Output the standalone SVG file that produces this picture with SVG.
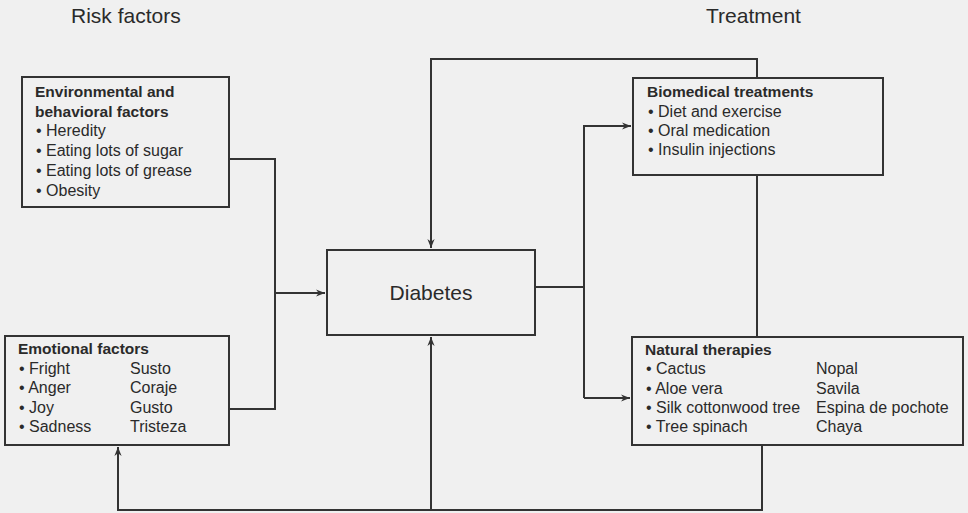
<svg xmlns="http://www.w3.org/2000/svg" width="968" height="513" viewBox="0 0 968 513">
<style>
text{font-family:"Liberation Sans",Arial,sans-serif;fill:#2a2a2a}
.hd{font-size:21px}
.t{font-size:15.5px;font-weight:bold}
.i{font-size:16px}
.box{fill:#f0f0f0;stroke:#333;stroke-width:2}
.ln{fill:none;stroke:#333;stroke-width:2}
</style>
<defs>
<marker id="ah" viewBox="0 0 10 10" refX="10" refY="5" markerWidth="9" markerHeight="9" markerUnits="userSpaceOnUse" orient="auto">
<path d="M0,1 L10,5 L0,9 L3,5 Z" fill="#333"/>
</marker>
</defs>
<rect x="0" y="0" width="968" height="513" fill="#f0f0f0"/>
<text class="hd" x="71" y="23">Risk factors</text>
<text class="hd" x="706" y="23">Treatment</text>
<g id="connectors">
<path class="ln" d="M229,159 H275 V409 H229"/>
<path class="ln" d="M275,293 H325" marker-end="url(#ah)"/>
<path class="ln" d="M757,337 V59 H431 V248" marker-end="url(#ah)"/>
<path class="ln" d="M535,287 H584"/>
<path class="ln" d="M584,398 V126 H631" marker-end="url(#ah)"/>
<path class="ln" d="M584,398 H630" marker-end="url(#ah)"/>
<path class="ln" d="M762,445 V510 H118 V447" marker-end="url(#ah)"/>
<path class="ln" d="M431,510 V337" marker-end="url(#ah)"/>
</g>
<g id="env">
<rect class="box" x="22" y="77" width="207" height="130"/>
<text class="t" x="35" y="97">Environmental and</text>
<text class="t" x="35" y="117">behavioral factors</text>
<text class="i" x="36" y="136">• Heredity</text>
<text class="i" x="36" y="156">• Eating lots of sugar</text>
<text class="i" x="36" y="176">• Eating lots of grease</text>
<text class="i" x="36" y="196">• Obesity</text>
</g>
<g id="emo">
<rect class="box" x="5" y="336" width="224" height="109"/>
<text class="t" x="18" y="354">Emotional factors</text>
<text class="i" x="19" y="374">• Fright</text>
<text class="i" x="19" y="393">• Anger</text>
<text class="i" x="19" y="413">• Joy</text>
<text class="i" x="19" y="432">• Sadness</text>
<text class="i" x="130" y="374">Susto</text>
<text class="i" x="130" y="393">Coraje</text>
<text class="i" x="130" y="413">Gusto</text>
<text class="i" x="130" y="432">Tristeza</text>
</g>
<g id="diabetes">
<rect class="box" x="327" y="250" width="208" height="85"/>
<text x="431" y="300" text-anchor="middle" style="font-size:21px">Diabetes</text>
</g>
<g id="bio">
<rect class="box" x="633" y="78" width="250" height="97"/>
<text class="t" x="647" y="97">Biomedical treatments</text>
<text class="i" x="648" y="117">• Diet and exercise</text>
<text class="i" x="648" y="136">• Oral medication</text>
<text class="i" x="648" y="155">• Insulin injections</text>
</g>
<g id="nat">
<rect class="box" x="632" y="337" width="331" height="108"/>
<text class="t" x="645" y="355">Natural therapies</text>
<text class="i" x="646" y="374">• Cactus</text>
<text class="i" x="646" y="394">• Aloe vera</text>
<text class="i" x="646" y="413">• Silk cottonwood tree</text>
<text class="i" x="646" y="432">• Tree spinach</text>
<text class="i" x="816" y="374">Nopal</text>
<text class="i" x="816" y="394">Savila</text>
<text class="i" x="816" y="413">Espina de pochote</text>
<text class="i" x="816" y="432">Chaya</text>
</g>
</svg>
